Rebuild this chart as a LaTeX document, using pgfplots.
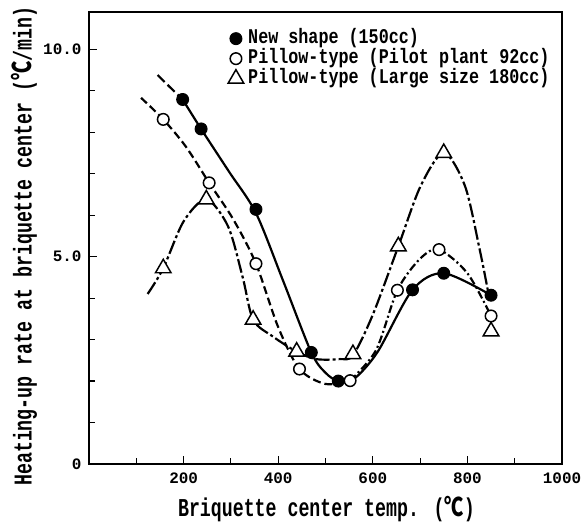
\documentclass[border=0pt]{standalone}
\usepackage{fontspec}
\usepackage{pgfplots}
\pgfplotsset{compat=1.18}
\setmainfont{Liberation Mono}
\newfontfamily\labfont{Liberation Mono}[FakeStretch=0.71]
\newfontfamily\legfont{Liberation Mono}[FakeStretch=0.8]
\newfontfamily\cjk{Noto Sans CJK JP}[FakeStretch=0.75]

\begin{document}
\begin{tikzpicture}
\begin{axis}[
  scale only axis, width=473bp, height=452bp,
  xmin=0, xmax=1000, ymin=0, ymax=10.9,
  axis line style={line width=1.5pt},
  xtick={200,400,600,800,1000}, xticklabels={200,400,600,800,1000},
  minor xtick={100,300,500,700,900},
  ytick={0,5,10}, yticklabels={0,5.0,10.0},
  minor ytick={1,2,3,4,6,7,8,9},
  xtick pos=bottom, ytick pos=left, tick align=inside,
  major tick length=8bp, minor tick length=6bp,
  every tick/.style={line width=1.2pt, black},
  /pgf/number format/assume math mode=true,
  tick label style={font=\bfseries\fontsize{16}{16}\selectfont},
  xticklabel style={yshift=-5bp},
  yticklabel style={xshift=-4bp},
  xlabel={\labfont\bfseries Briquette center temp. ({\cjk ℃})},
  ylabel={\labfont\bfseries Heating-up rate at briquette center ({\cjk ℃}/min)},
  label style={font=\fontsize{25.8}{26}\selectfont},
  xlabel style={at={(axis description cs:0.502,-0.117)}, anchor=base},
  ylabel style={at={(axis description cs:-0.137,0.482)}, anchor=center},
  legend style={at={(axis description cs:0.2875,0.968)}, anchor=north west,
    draw=none, fill=none, font=\legfont\bfseries\fontsize{21}{21}\selectfont,
    row sep=0pt, nodes={inner sep=1.5bp, text height=13bp, text depth=4bp},
    /tikz/every odd column/.append style={column sep=3bp}},
  legend cell align=left,
]
% legend
\addlegendimage{only marks, mark=*, mark size=6pt, mark options={fill=black, draw=black, line width=1pt}}
\addlegendentry{New shape (150cc)}
\addlegendimage{only marks, mark=*, mark size=5.8pt, mark options={fill=white, draw=black, line width=1.5pt}}
\addlegendentry{Pillow-type (Pilot plant 92cc)}
\addlegendimage{only marks, mark=triangle*, mark size=9pt, mark options={fill=white, draw=black, line width=1.5pt}}
\addlegendentry{Pillow-type (Large size 180cc)}

% curves
\addplot[forget plot, black, line width=2.2pt, smooth, dash pattern=on 10pt off 4pt] coordinates {
 (145,9.38) (170,9.1) (198,8.79)};
\addplot[forget plot, black, line width=2.2pt, smooth] coordinates {
 (198,8.79) (237,8.08) (296,7.05) (353,6.05) (411,4.4) (470,2.69) (500,2.2) (527,2.0) (560,2.05) (610,2.7) (684,4.2) (750,4.6) (850,4.07)};
\addplot[forget plot, black, line width=2.2pt, smooth, dash pattern=on 8pt off 4pt] coordinates {
 (110,8.83) (157,8.31) (205,7.65) (254,6.78) (305,5.9) (353,4.83) (400,3.3) (445,2.29) (500,1.93) (552,2.01)};
\addplot[forget plot, black, line width=2.2pt, smooth, dash pattern=on 8pt off 3pt on 2pt off 3pt] coordinates {
 (552,2.01) (607,2.75) (652,4.19) (700,4.95) (740,5.17) (800,4.6) (850,3.57)};
\addplot[forget plot, black, line width=2.2pt, smooth, dash pattern=on 14pt off 3pt on 3pt off 3pt] coordinates {
 (124,4.1) (157,4.72) (200,5.85) (248,6.38) (294,5.73) (325,4.5) (347,3.48) (388,3.08) (439,2.71) (480,2.53) (530,2.53) (558,2.62) (600,3.6) (654,5.25) (701,6.7) (750,7.5) (795,6.7) (826,5.17) (843,4.2)};

% markers
\addplot[forget plot, only marks, mark=*, mark size=6pt, mark options={fill=black, draw=black, line width=1pt}] coordinates {
 (198,8.79) (237,8.08) (353,6.14) (470,2.69) (527,2.0) (684,4.2) (750,4.6) (850,4.07)};
\addplot[forget plot, only marks, mark=*, mark size=5.8pt, mark options={fill=white, draw=black, line width=1.5pt}] coordinates {
 (157,8.31) (254,6.78) (353,4.83) (445,2.29) (552,2.01) (652,4.19) (740,5.17) (850,3.57)};
\addplot[forget plot, only marks, mark=triangle*, mark size=9pt, mark options={fill=white, draw=black, line width=1.5pt}] coordinates {
 (157,4.72) (248,6.38) (347,3.48) (439,2.71) (558,2.65) (654,5.25) (750,7.5) (850,3.2)};
\end{axis}
\path (current axis.south west) ++(-89bp,-58bp);
\path (current axis.north east) ++(24bp,12bp);
\end{tikzpicture}
\end{document}
